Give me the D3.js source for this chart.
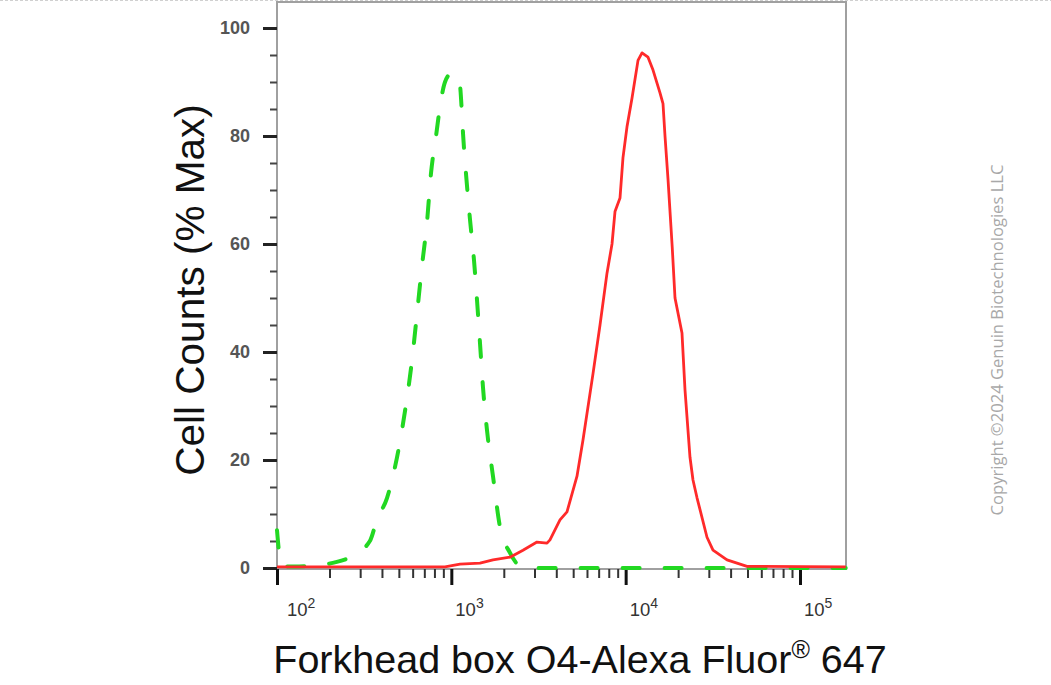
<!DOCTYPE html>
<html>
<head>
<meta charset="utf-8">
<script src="https://cdn.jsdelivr.net/npm/d3@7"></script>
<style>
  html, body { margin: 0; padding: 0; background: #ffffff; }
  svg { display: block; }
</style>
</head>
<body>
<script>
// ---------- data ----------
const redX = [100, 920, 1121, 1460, 1734, 2171, 2577, 3100, 3538, 3681, 4201, 4608, 5259, 5692, 6498, 7127, 7816, 8351, 8687, 9280, 9654, 10178, 10873, 11773, 12410, 13437, 14356, 15740, 16377, 16816, 17497, 18500, 19192, 21046, 21897, 23393, 24338, 25668, 29285, 31697, 38141, 49659, 183000];
const redY = [0.2, 0.2, 0.7, 0.9, 1.5, 2, 3.3, 4.8, 4.6, 5.2, 8.9, 10.4, 17, 23.7, 36, 45, 54.6, 60, 66, 68.5, 76, 81.7, 87, 94, 95.4, 94.6, 92.2, 88, 86, 80, 72, 59.4, 50, 43.5, 33, 20.5, 16.3, 13, 5.7, 3.3, 1.5, 0.3, 0.2];
const greenX = [100, 102.7, 106.8, 125, 155, 212, 262, 341, 375, 428, 488, 542, 595, 635, 679, 725, 764, 817, 873, 920, 995, 1078, 1121, 1151, 1167, 1214, 1280, 1349, 1404, 1460, 1519, 1602, 1734, 1902, 2171, 2612, 183000];
const greenY = [7, 3, 0.3, 0.3, 0.4, 1, 2, 5, 9, 13, 20.5, 29, 38.5, 47, 56, 64, 73, 80, 86.7, 90, 91.5, 91.3, 89.4, 84, 80.5, 73, 64.5, 57, 49.6, 41.7, 33.5, 25.5, 17, 7.6, 2.8, 0, 0];
const xDomain = [100, 183650];
const yDomain = [0, 100];
const xMajorTicks = [1e2, 1e3, 1e4, 1e5];
const xTickExponents = ["2", "3", "4", "5"];
const yMajorTicks = [0, 20, 40, 60, 80, 100];
const yMinorTicks = [5, 10, 15, 25, 30, 35, 45, 50, 55, 65, 70, 75, 85, 90, 95];
const xTitle = "Forkhead box O4-Alexa Fluor";
const xTitleSup = "®";
const xTitleEnd = " 647";
const yTitle = "Cell Counts (% Max)";
const copyright = "Copyright ©2024 Genuin Biotechnologies LLC";

// ---------- layout ----------
const W = 1051, H = 685;
const plot = { left: 277, right: 846, top: 2, bottom: 569 };

const svg = d3.select("body").append("svg").attr("width", W).attr("height", H);

const x = d3.scaleLog().domain(xDomain).range([plot.left, plot.right]);
const y = d3.scaleLinear().domain(yDomain).range([568, 28]);

// minor x ticks
const xMinorTicks = [];
[1e2, 1e3, 1e4].forEach(d => { for (let k = 2; k <= 9; k++) xMinorTicks.push(d * k); });

// top dotted page line
svg.append("line").attr("x1", 0).attr("x2", W).attr("y1", 0.5).attr("y2", 0.5)
  .attr("stroke", "#d0d0d0").attr("stroke-width", 1).attr("stroke-dasharray", "3,2");

// frame
const frameColor = "#a0a0a0";
svg.append("rect").attr("x", plot.left).attr("y", plot.top)
  .attr("width", plot.right - plot.left).attr("height", plot.bottom - plot.top)
  .attr("fill", "#fff").attr("stroke", frameColor).attr("stroke-width", 2);

// y minor ticks
svg.append("g").attr("transform", `translate(${plot.left},0)`)
  .call(d3.axisLeft(y).tickValues(yMinorTicks).tickSize(7).tickFormat(""))
  .call(g => g.select(".domain").remove())
  .call(g => g.selectAll("line").attr("stroke", "#444").attr("stroke-width", 2));

// y major ticks
svg.append("g").attr("transform", `translate(${plot.left},0)`)
  .call(d3.axisLeft(y).tickValues(yMajorTicks).tickSize(14).tickPadding(13))
  .call(g => g.select(".domain").remove())
  .call(g => g.selectAll("line").attr("stroke", "#222").attr("stroke-width", 3))
  .call(g => g.selectAll("text")
    .attr("font-family", "'Liberation Sans', Arial, sans-serif")
    .attr("font-size", 18).attr("font-weight", "bold").attr("fill", "#555"));

// x minor ticks
svg.append("g").attr("transform", `translate(0,${plot.bottom})`)
  .call(d3.axisBottom(x).tickValues(xMinorTicks).tickSize(9).tickFormat(""))
  .call(g => g.select(".domain").remove())
  .call(g => g.selectAll("line").attr("stroke", "#333").attr("stroke-width", 2));

// x major ticks
svg.append("g").attr("transform", `translate(0,${plot.bottom})`)
  .call(d3.axisBottom(x).tickValues(xMajorTicks).tickSize(16).tickFormat(""))
  .call(g => g.select(".domain").remove())
  .call(g => g.selectAll("line").attr("stroke", "#111").attr("stroke-width", 3));

// x tick labels 10^n
const xl = svg.append("g").attr("font-family", "'Liberation Sans', Arial, sans-serif").attr("fill", "#333");
xMajorTicks.forEach((v, i) => {
  const t = xl.append("text")
    .attr("x", Math.max(x(v) + 4, 287))
    .attr("y", 616)
    .attr("font-size", 18.5);
  t.append("tspan").text("10");
  t.append("tspan").attr("font-size", 14).attr("dy", -8).text(xTickExponents[i]);
});

// curves
const lineG = d3.line().x(d => x(d[0])).y(d => y(d[1])).curve(d3.curveMonotoneX);
const lineR = d3.line().x(d => x(d[0])).y(d => y(d[1])).curve(d3.curveLinear);

svg.append("path")
  .datum(greenX.map((v, i) => [v, greenY[i]]))
  .attr("d", lineG)
  .attr("fill", "none").attr("stroke", "#22d822").attr("stroke-width", 4)
  .attr("stroke-linecap", "round")
  .attr("stroke-dasharray", "17,25");

svg.append("path")
  .datum(redX.map((v, i) => [v, redY[i]]))
  .attr("d", lineR)
  .attr("fill", "none").attr("stroke", "#ff2a2a").attr("stroke-width", 2.8)
  .attr("stroke-linejoin", "round");

// axis titles
const xt = svg.append("text")
  .attr("x", 580).attr("y", 673)
  .attr("text-anchor", "middle")
  .attr("font-family", "'Liberation Sans', Arial, sans-serif")
  .attr("font-size", 39.5).attr("fill", "#111");
xt.append("tspan").text(xTitle);
xt.append("tspan").attr("font-size", 25).attr("dy", -15).text(xTitleSup);
xt.append("tspan").attr("dy", 15).text(xTitleEnd);

svg.append("text")
  .attr("transform", `translate(204,290) rotate(-90)`)
  .attr("text-anchor", "middle")
  .attr("font-family", "'Liberation Sans', Arial, sans-serif")
  .attr("font-size", 40.5).attr("fill", "#111")
  .text(yTitle);

// copyright
svg.append("text")
  .attr("transform", `translate(1003,340) rotate(-90)`)
  .attr("text-anchor", "middle")
  .attr("font-family", "'Open Sans', 'Noto Sans', sans-serif")
  .attr("font-size", 16.6).attr("fill", "#a8a8a8")
  .text(copyright);
</script>
</body>
</html>
